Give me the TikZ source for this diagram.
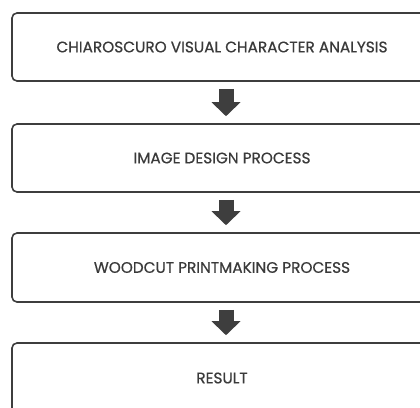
\documentclass[tikz,border=0pt]{standalone}
\usepackage{fontspec}
\setmainfont{Poppins}[FakeBold=0.6]
\usetikzlibrary{arrows.meta}
\definecolor{lineg}{HTML}{3E3E3E}
\definecolor{textg}{HTML}{3A3A3A}
\begin{document}
\begin{tikzpicture}[x=1pt,y=-1pt,
  stepbox/.style={draw=lineg, line width=1.6pt, rounded corners=5pt, fill=white,
    minimum width=420pt, inner sep=0pt, text=textg,
    font=\fontsize{15.3}{17}\selectfont},
  flowarrow/.style={draw=lineg, line width=15pt, shorten <=7pt, shorten >=7pt,
    -{Triangle[width=29pt,length=14pt,line width=0pt,fill=lineg]}}]
\useasboundingbox (0,0) rectangle (420,407);
\clip (0,0) rectangle (420,407);
\node[stepbox, minimum height=68pt] (b1) at (222,47) {CHIAROSCURO VISUAL CHARACTER ANALYSIS};
\node[stepbox, minimum height=68pt] (b2) at (222,158) {IMAGE DESIGN PROCESS};
\node[stepbox, minimum height=69pt] (b3) at (222,267.5) {WOODCUT PRINTMAKING PROCESS};
\node[stepbox, minimum height=70pt] (b4) at (222,378) {RESULT};
\draw[flowarrow] ([xshift=4pt]b1.south) -- ([xshift=4pt]b2.north);
\draw[flowarrow] ([xshift=4pt]b2.south) -- ([xshift=4pt]b3.north);
\draw[flowarrow] ([xshift=4pt]b3.south) -- ([xshift=4pt]b4.north);
\end{tikzpicture}
\end{document}
